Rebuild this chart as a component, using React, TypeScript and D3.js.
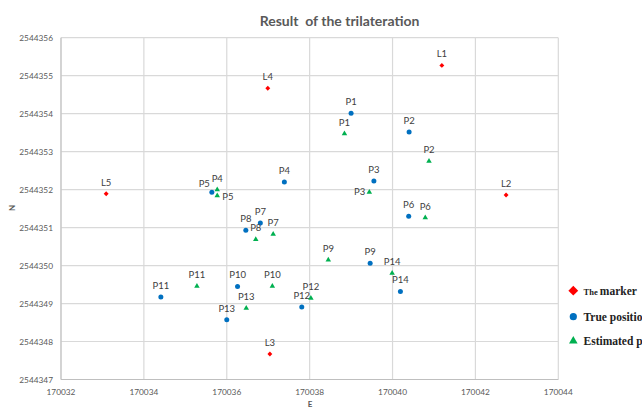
import React from "react";
import * as d3 from "d3";

// ---- data ----
const markerNames = ["L1", "L2", "L3", "L4", "L5"];
const markerE = [170041.19, 170042.74, 170037.04, 170036.99, 170033.09];
const markerN = [2544355.27, 2544351.86, 2544347.67, 2544354.67, 2544351.89];

const trueNames = ["P1", "P2", "P3", "P4", "P5", "P6", "P7", "P8", "P9", "P10", "P11", "P12", "P13", "P14"];
const trueE = [170039.0, 170040.4, 170039.55, 170037.39, 170035.64, 170040.39, 170036.81, 170036.46, 170039.46, 170036.26, 170034.41, 170037.81, 170036.0, 170040.19];
const trueN = [2544354.01, 2544353.52, 2544352.23, 2544352.2, 2544351.93, 2544351.3, 2544351.12, 2544350.93, 2544350.06, 2544349.45, 2544349.17, 2544348.91, 2544348.57, 2544349.32];

const estNames = ["P1", "P2", "P3", "P4", "P5", "P6", "P7", "P8", "P9", "P10", "P11", "P12", "P13", "P14"];
const estE = [170038.84, 170040.88, 170039.44, 170035.77, 170035.77, 170040.79, 170037.12, 170036.7, 170038.45, 170037.1, 170035.28, 170038.03, 170036.47, 170039.99];
const estN = [2544353.47, 2544352.75, 2544351.93, 2544352.0, 2544351.84, 2544351.26, 2544350.83, 2544350.69, 2544350.15, 2544349.46, 2544349.46, 2544349.14, 2544348.88, 2544349.8];

const xTicks = [170032, 170034, 170036, 170038, 170040, 170042, 170044];
const yTicks = [2544347, 2544348, 2544349, 2544350, 2544351, 2544352, 2544353, 2544354, 2544355, 2544356];

const titleText = "Result  of the trilateration";
const xTitle = "E";
const yTitle = "N";
const legendItems = ["marker", "True position", "Estimated position"];

// label placement (style only)
const trueLabelPlace: Record<string, string> = { P5: "left" };
const estLabelPlace: Record<string, string> = { P3: "left", P5: "right" };

const W = 642;
const H = 408;
const RED = "#ff0000";
const BLUE = "#0070c0";
const GREEN = "#00b050";
const LABEL = "#404040";
const FONT = "Lato, 'Open Sans', sans-serif";
const LFS = 9.5;

export default function App() {
  const x = d3.scaleLinear().domain([170032, 170044]).range([61, 558.3]);
  const y = d3.scaleLinear().domain([2544347, 2544356]).range([379.5, 37.7]);

  const diamond = d3.symbol().type(d3.symbolSquare).size(12)() as string;
  const tri = d3.symbol().type(d3.symbolTriangle).size(13)() as string;
  const legDiamond = d3.symbol().type(d3.symbolSquare).size(48)() as string;
  const legTri = d3.symbol().type(d3.symbolTriangle).size(32)() as string;

  const label = (name: string, px: number, py: number, place: string | undefined, key: string) => {
    if (place === "left") {
      return (
        <text key={key} x={px - 4} y={py + 3} textAnchor="end" fontSize={LFS} fill={LABEL} fontFamily={FONT}>
          {name}
        </text>
      );
    }
    if (place === "right") {
      return (
        <text key={key} x={px + 5} y={py + 4} textAnchor="start" fontSize={LFS} fill={LABEL} fontFamily={FONT}>
          {name}
        </text>
      );
    }
    return (
      <text key={key} x={px} y={py - 8} textAnchor="middle" fontSize={LFS} fill={LABEL} fontFamily={FONT}>
        {name}
      </text>
    );
  };

  // blue P5 label sits left-above
  const trueLabelDy: Record<string, number> = { P5: -8 };

  return (
    <svg width={W} height={H} style={{ position: "absolute", left: 0, top: 0, background: "#fff" }}>
      <rect x={0} y={0} width={W} height={H} fill="#fff" />
      {/* title */}
      <text
        x={339.5}
        y={26}
        textAnchor="middle"
        fontSize={14}
        fontWeight="bold"
        fill="#595959"
        fontFamily={FONT}
        style={{ whiteSpace: "pre" }}
      >
        {titleText}
      </text>

      {/* gridlines */}
      {yTicks.map((t) => (
        <line key={"gy" + t} x1={x(170032)} x2={x(170044)} y1={y(t)} y2={y(t)} stroke="#d9d9d9" strokeWidth={1.2} />
      ))}
      {xTicks.map((t) => (
        <line key={"gx" + t} x1={x(t)} x2={x(t)} y1={y(2544356)} y2={y(2544347)} stroke="#d9d9d9" strokeWidth={1.2} />
      ))}
      {/* axes */}
      <line x1={x(170032)} x2={x(170032)} y1={y(2544356)} y2={y(2544347)} stroke="#bfbfbf" strokeWidth={1} />
      <line x1={x(170032)} x2={x(170044)} y1={y(2544347)} y2={y(2544347)} stroke="#bfbfbf" strokeWidth={1} />

      {/* tick labels */}
      {yTicks.map((t) => (
        <text key={"ty" + t} x={53} y={y(t) + 3} textAnchor="end" fontSize={8.3} fill="#595959" fontFamily={FONT}>
          {t}
        </text>
      ))}
      {xTicks.map((t) => (
        <text key={"tx" + t} x={x(t)} y={395} textAnchor="middle" fontSize={8.3} fill="#595959" fontFamily={FONT}>
          {t}
        </text>
      ))}
      <text x={310} y={407} textAnchor="middle" fontSize={8} fontWeight="bold" fill="#595959" fontFamily={FONT}>
        {xTitle}
      </text>
      <text
        transform="translate(15,208) rotate(-90)"
        textAnchor="middle"
        fontSize={8}
        fontWeight="bold"
        fill="#595959"
        fontFamily={FONT}
      >
        {yTitle}
      </text>

      {/* markers */}
      {markerNames.map((n, i) => (
        <g key={"m" + n}>
          <path d={diamond} transform={`translate(${x(markerE[i])},${y(markerN[i])}) rotate(45)`} fill={RED} />
          {label(n, x(markerE[i]), y(markerN[i]), undefined, "ml" + n)}
        </g>
      ))}
      {/* true positions */}
      {trueNames.map((n, i) => {
        const px = x(trueE[i]);
        const py = y(trueN[i]);
        const place = trueLabelPlace[n];
        return (
          <g key={"t" + n}>
            <circle cx={px} cy={py} r={2.5} fill={BLUE} />
            {place === "left" ? (
              <text x={px - 2} y={py + (trueLabelDy[n] || 0) + 3} textAnchor="end" fontSize={LFS} fill={LABEL} fontFamily={FONT}>
                {n}
              </text>
            ) : (
              label(n, px, py, place, "tl" + n)
            )}
          </g>
        );
      })}
      {/* estimated */}
      {estNames.map((n, i) => {
        const px = x(estE[i]);
        const py = y(estN[i]);
        return (
          <g key={"e" + n}>
            <path d={tri} transform={`translate(${px},${py})`} fill={GREEN} />
            {label(n, px, py, estLabelPlace[n], "el" + n)}
          </g>
        );
      })}

      {/* legend */}
      <g fontFamily="'Liberation Serif', 'Times New Roman', serif" fontWeight="bold" fill="#222">
        <path d={legDiamond} transform="translate(573.3,290.7) rotate(45)" fill={RED} />
        <text x={583.5} y={294.5} fontSize={11.5}>
          <tspan fontSize={8.5}>The </tspan>
          {legendItems[0]}
        </text>
        <circle cx={573.3} cy={316.7} r={3.6} fill={BLUE} />
        <text x={583.5} y={320.5} fontSize={11.5}>
          {legendItems[1]}
        </text>
        <path d={legTri} transform="translate(573.3,341)" fill={GREEN} />
        <text x={583.5} y={344.5} fontSize={11.5}>
          {legendItems[2]}
        </text>
      </g>
    </svg>
  );
}
